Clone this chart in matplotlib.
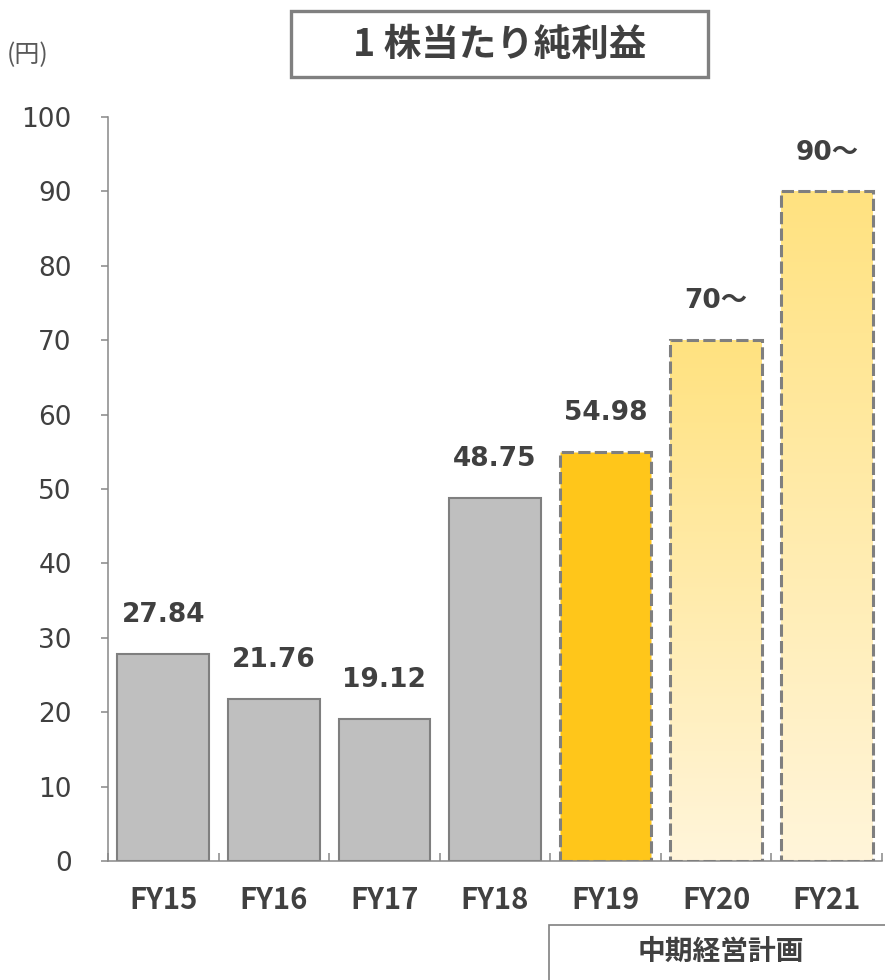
import numpy as np
import matplotlib.pyplot as plt
from matplotlib.patches import Rectangle
from matplotlib.colors import LinearSegmentedColormap

# データ
years = ['FY15', 'FY16', 'FY17', 'FY18', 'FY19', 'FY20', 'FY21']
eps = [27.84, 21.76, 19.12, 48.75, 54.98, 70, 90]
labels = ['27.84', '21.76', '19.12', '48.75', '54.98', '70～', '90～']
kind = ['actual', 'actual', 'actual', 'actual', 'plan', 'target', 'target']

TXT = '#404040'
EDGE = '#7f7f7f'
JP = ['Noto Sans CJK JP', 'DejaVu Sans']

fig = plt.figure(figsize=(8.85, 9.8), dpi=100)
ax = fig.add_axes([0.122, 0.1214, 0.8746, 0.7592])

x = np.arange(len(years))
w = 0.83
cm = LinearSegmentedColormap.from_list('g', ['#fff5da', '#ffe280'])
for i, (v, k) in enumerate(zip(eps, kind)):
    if k == 'actual':
        ax.bar(x[i], v, w, color='#bfbfbf', edgecolor=EDGE, linewidth=1.5, zorder=2)
    elif k == 'plan':
        ax.bar(x[i], v, w, color='#ffc61a', edgecolor=EDGE, linewidth=2.2,
               linestyle=(0, (4, 1.4)), zorder=2)
    else:
        ax.bar(x[i], v, w, color='none', edgecolor=EDGE, linewidth=2.2,
               linestyle=(0, (4, 1.4)), zorder=3)
        # 縦グラデーション
        grad = np.linspace(0, 1, 256).reshape(-1, 1)
        im = ax.imshow(grad, cmap=cm, aspect='auto', origin='lower',
                       extent=[x[i] - w / 2, x[i] + w / 2, 0, v], zorder=2)
        im.set_clip_path(Rectangle((x[i] - w / 2, 0), w, v, transform=ax.transData))
    ax.annotate(labels[i], (x[i], v), xytext=(0, 28), textcoords='offset points',
                ha='center', va='center', fontsize=19, fontweight='bold',
                color=TXT, family=['DejaVu Sans', 'Noto Sans CJK JP'])

ax.set_xlim(-0.5, 6.5)
ax.set_ylim(0, 100)
ax.set_yticks(range(0, 101, 10))
ax.tick_params(axis='y', direction='out', length=5, width=1.1, color='#888888',
               labelsize=19, labelcolor='#404040', pad=21)
ax.set_xticks(x)
ax.set_xticklabels(years, fontsize=21, fontweight='bold', color=TXT, family=JP)
ax.tick_params(axis='x', length=0, pad=17)
ax.set_xticks(np.arange(-0.5, 7, 1), minor=True)
ax.tick_params(axis='x', which='minor', direction='in', length=6, width=1.1, color='#888888')
for s in ['top', 'right']:
    ax.spines[s].set_visible(False)
for s in ['left', 'bottom']:
    ax.spines[s].set_color('#888888')
    ax.spines[s].set_linewidth(1.1)
for lab in ax.get_yticklabels():
    lab.set_family('DejaVu Sans')

# タイトル枠
fig.patches.append(Rectangle((0.329, 0.9214), 0.471, 0.0673, transform=fig.transFigure,
                             facecolor='white', edgecolor='#808080', linewidth=2.4))
fig.text(0.565, 0.955, '1 株当たり純利益', ha='center', va='center', fontsize=27,
         fontweight='bold', color=TXT, family=JP)
fig.text(0.008, 0.944, '(円)', ha='left', va='center', fontsize=18, color='#595959', family=JP)

# 中期経営計画
fig.patches.append(Rectangle((0.620, -0.05), 0.5, 0.106, transform=fig.transFigure,
                             facecolor='none', edgecolor='#808080', linewidth=1.2))
fig.text(0.814, 0.0285, '中期経営計画', ha='center', va='center', fontsize=20,
         fontweight='bold', color=TXT, family=JP)

fig.savefig('out.png', dpi=100)
